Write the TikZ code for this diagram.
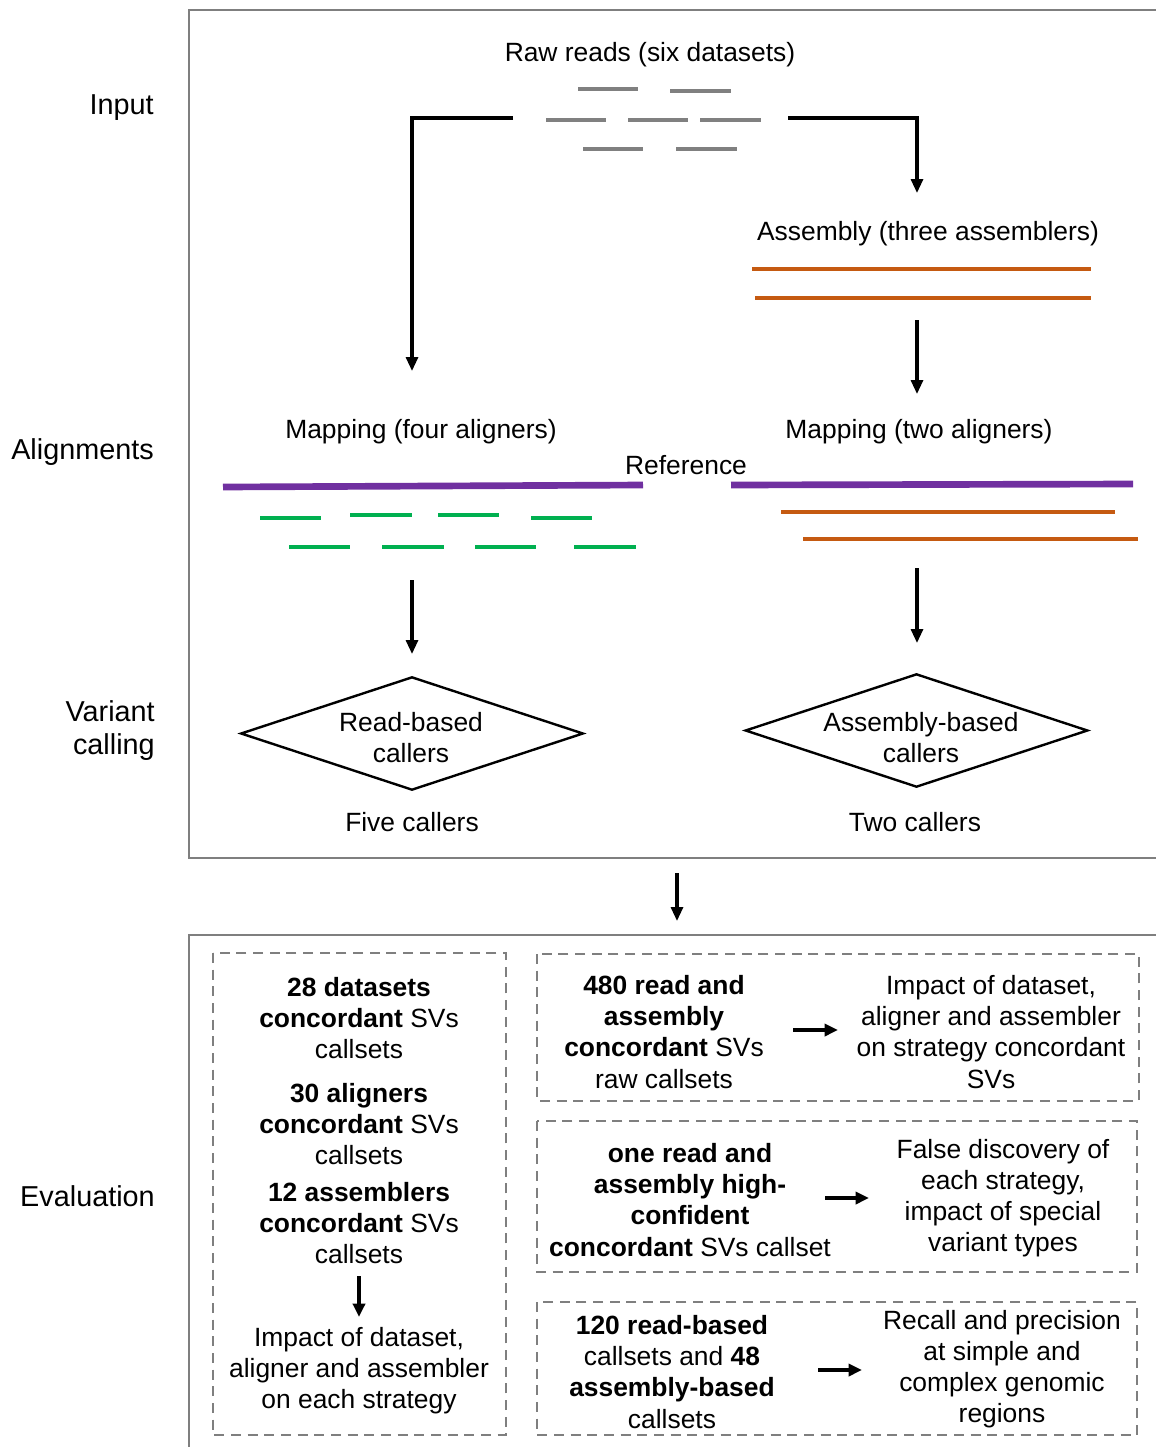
\documentclass[tikz,border=0pt]{standalone}
\usepackage{fontspec}
\setmainfont{Liberation Sans}
\usetikzlibrary{arrows.meta,shapes.geometric}
\definecolor{boxgray}{HTML}{7F7F7F}
\definecolor{readgray}{HTML}{808080}
\definecolor{asmorange}{HTML}{C55A11}
\definecolor{refpurple}{HTML}{7030A0}
\definecolor{mapgreen}{HTML}{00B050}
\begin{document}
\begin{tikzpicture}[x=0.75pt,y=-0.75pt,
  txt/.style={font=\fontsize{19.8}{23.3}\selectfont, align=center, inner sep=0pt},
  lbl/.style={font=\fontsize{21.6}{24.8}\selectfont, align=right, inner sep=0pt, anchor=east},
  arr/.style={line width=2.3pt, -{Triangle[length=10.5pt,width=9pt]}},
  earr/.style={line width=3pt, -{Triangle[length=10pt,width=9pt]}},
  frame/.style={draw=boxgray, line width=2.2pt},
  dbox/.style={draw=boxgray, line width=2.1pt, dash pattern=on 7.5pt off 5pt},
  rd/.style={readgray, line width=3pt},
  asm/.style={asmorange, line width=3pt},
  ref/.style={refpurple, line width=5pt},
  gm/.style={mapgreen, line width=3pt},
  dia/.style={draw, line width=1.8pt, diamond, inner sep=0pt, minimum width=257pt, minimum height=85pt}]
\useasboundingbox (0,0) rectangle (1156,1447);

% frames
\draw[frame] (1170,10) -- (189,10) -- (189,858) -- (1170,858);
\draw[frame] (1170,935) -- (189,935) -- (189,1460);

% row labels
\node[lbl] (lin) at (154,108) {Input};
\node[lbl] (lal) at (154,452) {Alignments};
\node[lbl] (lvc) at (155,731) {Variant\\calling};
\node[lbl] (lev) at (155,1196) {Evaluation};

% raw reads
\node[txt] (raw) at (650,55) {Raw reads (six datasets)};
\draw[rd] (578,89) -- (638,89);
\draw[rd] (670,91) -- (731,91);
\draw[rd] (546,120) -- (606,120);
\draw[rd] (628,120) -- (688,120);
\draw[rd] (700,120) -- (761,120);
\draw[rd] (583,149) -- (643,149);
\draw[rd] (676,149) -- (737,149);
\coordinate (rawL) at (513,118);
\coordinate (rawR) at (788,118);

% assembly
\node[txt] (asmt) at (928,234) {Assembly (three assemblers)};
\draw[asm] (752,269) -- (1091,269);
\draw[asm] (755,298) -- (1091,298);
\coordinate (asmIn) at (917,193);
\coordinate (asmOut) at (917,320);

% mapping
\node[txt] (map4) at (421,432) {Mapping (four aligners)};
\node[txt] (map2) at (919,432) {Mapping (two aligners)};
\node[txt] (reft) at (686,465) {Reference};
\coordinate (map4In) at (412,371);
\coordinate (map2In) at (917,394);

\draw[arr] (rawL) -| (map4In);
\draw[arr] (rawR) -| (asmIn);
\draw[arr] (asmOut) -- (map2In);

\draw[ref] (223,487) -- (643,485);
\draw[ref] (731,485) -- (1133,484);
\draw[gm] (260,518) -- (321,518);
\draw[gm] (350,515) -- (412,515);
\draw[gm] (438,515) -- (499,515);
\draw[gm] (531,518) -- (592,518);
\draw[gm] (289,547) -- (350,547);
\draw[gm] (382,547) -- (444,547);
\draw[gm] (475,547) -- (536,547);
\draw[gm] (574,547) -- (636,547);
\draw[asm] (781,512) -- (1115,512);
\draw[asm] (803,539) -- (1138,539);
\coordinate (map4Out) at (412,580);
\coordinate (map2Out) at (917,568);
\coordinate (dreadIn) at (412,654);
\coordinate (dasmIn) at (917,643);

% callers
\node[dia] (dread) at (412,733.5) {};
\node[txt] (dreadt) at (411,738) {Read-based\\callers};
\node[dia] (dasm) at (916.5,730.5) {};
\node[txt] (dasmt) at (921,738) {Assembly-based\\callers};
\node[txt] (five) at (412,822) {Five callers};
\node[txt] (two) at (915,822) {Two callers};
\draw[arr] (map4Out) -- (dreadIn);
\draw[arr] (map2Out) -- (dasmIn);

% between frames
\coordinate (midA) at (677,873);
\coordinate (midB) at (677,921);
\draw[arr] (midA) -- (midB);

% evaluation: left column
\draw[dbox] (213,953) rectangle (506,1435);
\node[txt] (e28) at (359,1018) {\textbf{28 datasets}\\\textbf{concordant} SVs\\callsets};
\node[txt] (e30) at (359,1124) {\textbf{30 aligners}\\\textbf{concordant} SVs\\callsets};
\node[txt] (e12) at (359,1223) {\textbf{12 assemblers}\\\textbf{concordant} SVs\\callsets};
\node[txt] (eimp) at (359,1371) {Impact of dataset,\\aligner and assembler\\on each strategy};
\coordinate (e12s) at (359,1276);
\coordinate (eimpn) at (359,1317);
\draw[earr] (e12s) -- (eimpn);

% evaluation: right boxes
\draw[dbox] (537,954) rectangle (1139,1101);
\node[txt] (a480) at (664,1032) {\textbf{480 read and}\\\textbf{assembly}\\\textbf{concordant} SVs\\raw callsets};
\node[txt] (b480) at (991,1032) {Impact of dataset,\\aligner and assembler\\on strategy concordant\\SVs};
\coordinate (c1a) at (793,1030);
\coordinate (c1b) at (838,1030);
\draw[earr] (c1a) -- (c1b);

\draw[dbox] (537,1121) rectangle (1137,1272);
\node[txt] (aone) at (690,1200) {\textbf{one read and}\\\textbf{assembly high-}\\\textbf{confident}\\\textbf{concordant} SVs callset};
\node[txt] (bone) at (1003,1198) {False discovery of\\each strategy,\\impact of special\\variant types};
\coordinate (c2a) at (825,1198);
\coordinate (c2b) at (869,1198);
\draw[earr] (c2a) -- (c2b);

\draw[dbox] (537,1302) rectangle (1137,1435);
\node[txt] (a120) at (672,1372) {\textbf{120 read-based}\\callsets and \textbf{48}\\\textbf{assembly-based}\\callsets};
\node[txt] (b120) at (1002,1369) {Recall and precision\\at simple and\\complex genomic\\regions};
\coordinate (c3a) at (818,1370);
\coordinate (c3b) at (862,1370);
\draw[earr] (c3a) -- (c3b);
\end{tikzpicture}
\end{document}
